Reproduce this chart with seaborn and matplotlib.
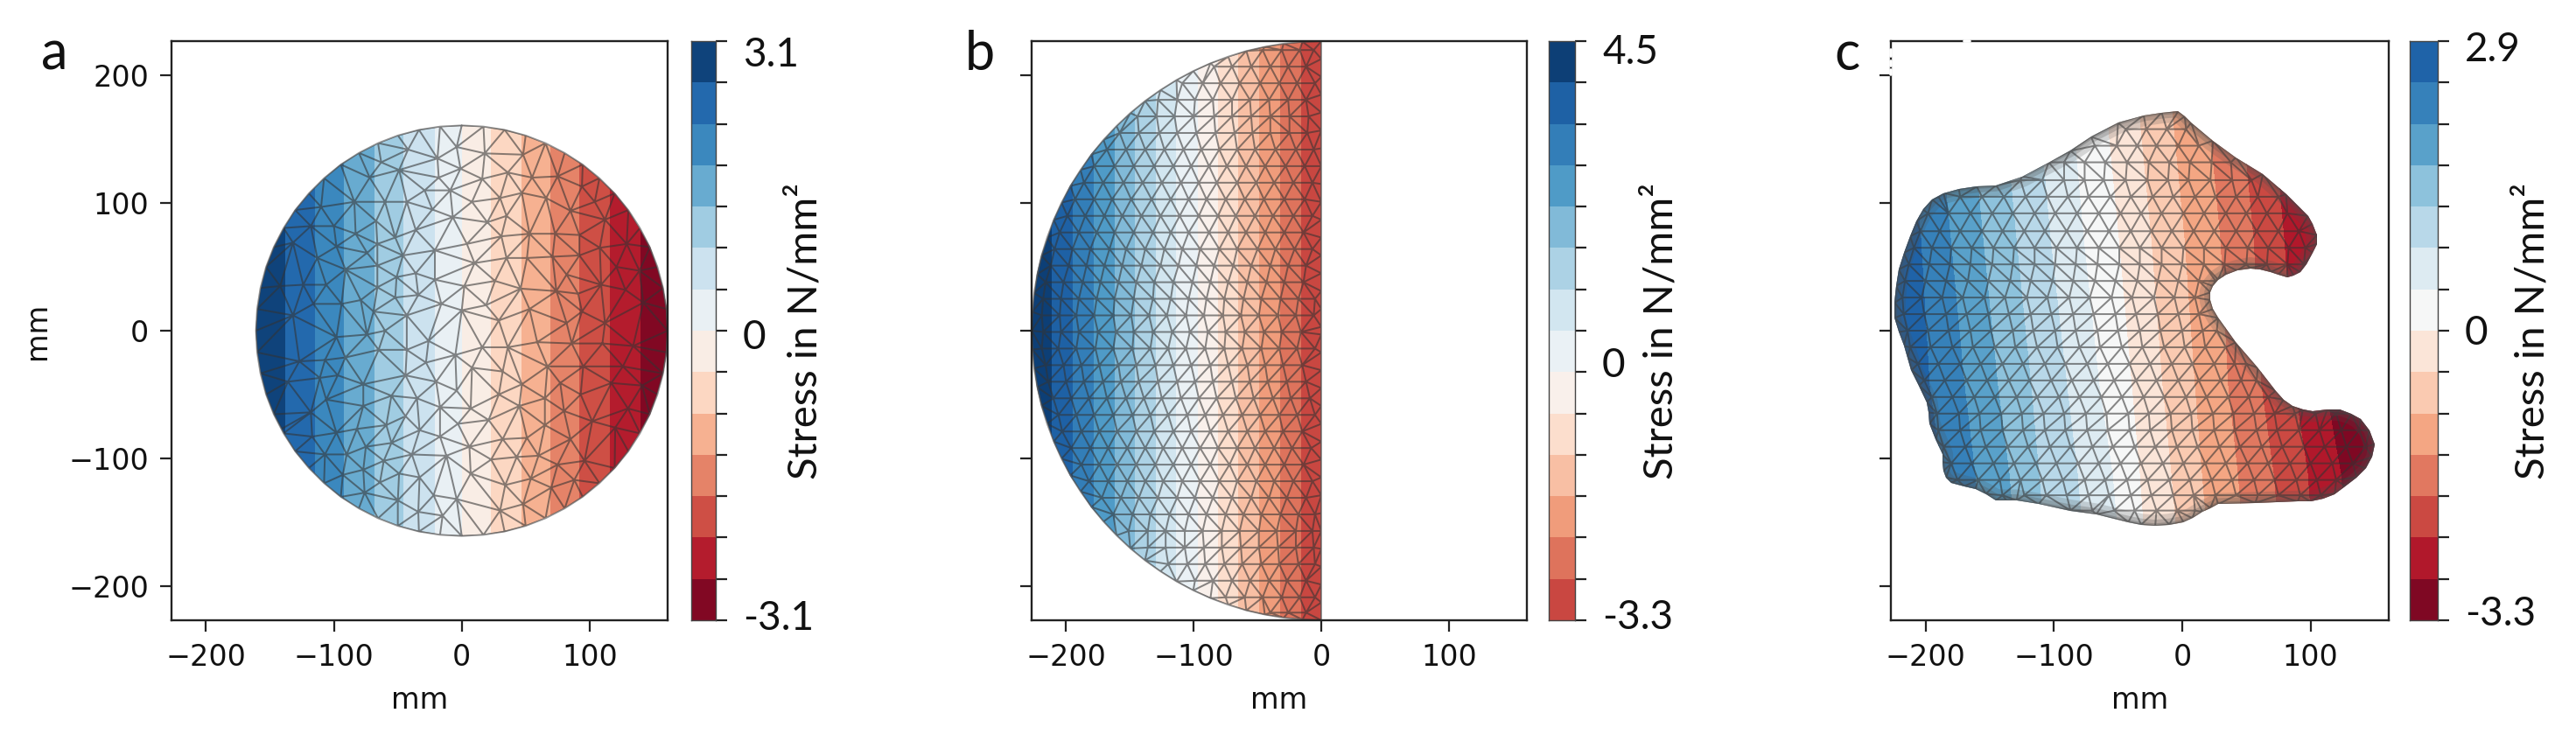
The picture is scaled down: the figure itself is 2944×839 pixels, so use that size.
import numpy as np
import matplotlib
matplotlib.use("Agg")
import matplotlib.pyplot as plt
import matplotlib.tri as mtri
from matplotlib.colors import Normalize
from matplotlib.patches import Polygon
from matplotlib.path import Path
from matplotlib.transforms import ScaledTranslation
import seaborn as sns

# values are read off the picture. mesh nodes are eyeballed from zoomed crops:
# panel a is read node by node, panels b and c are estimated row by row,
# so their meshes show the density and look of the original, not its exact nodes

# colour bins, left to right in the plots (blue side first), N/mm2
bins_a = [2.88, 2.44, 1.99, 1.55, 1.11, 0.66, 0.22, -0.22, -0.66, -1.11, -1.55, -1.99, -2.44, -2.88]
bins_b = [4.22, 3.66, 3.10, 2.54, 1.99, 1.43, 0.87, 0.31, -0.24, -0.79, -1.35, -1.91, -2.46, -3.02]
bins_c = [2.68, 2.24, 1.79, 1.35, 0.91, 0.46, 0.02, -0.42, -0.86, -1.31, -1.75, -2.19, -2.64, -3.08]
colour_limit = [3.1, 4.5, 3.3]

# band edges in mm
edges_a = [-161, -138, -115, -92, -68, -46, -21, 0, 23, 47, 69, 92, 116, 140, 161]
edges_b = [-227, -211, -195, -178, -162, -146, -130, -114, -97, -81, -65, -49, -32, -16, 0]
# panel c bands lean, so the edges are read at a few heights
edges_c_y = [180, 73, -43, -112, -160]
edges_c = [
    [-232, -213, -190, -165, -139, -112, -86, -59, -34, -8, 20, 46, 70, 95, 160],
    [-232, -203, -180, -155, -129, -102, -76, -49, -24, 2, 30, 56, 80, 105, 160],
    [-232, -196, -169, -143, -117, -89, -64, -39, -15, 10, 36, 62, 88, 112, 160],
    [-232, -187, -161, -134, -111, -81, -54, -33, -8, 16, 44, 72, 98, 124, 160],
    [-232, -183, -157, -130, -107, -77, -50, -29, -4, 20, 48, 76, 102, 128, 160],
]

# quarter arcs of the two circular parts, mm
arc_a_x = [0, 17, 33.5, 50, 65.5, 80.5, 94.6, 107.7, 119.6, 130.3, 139.4, 147.1, 153.1, 157.5, 160.1, 161]
arc_b_x = [0, 14.8, 29.6, 44.3, 58.8, 73, 86.9, 100.4, 113.5, 126.1, 138.2, 149.7, 160.5,
           170.7, 180.1, 188.7, 196.6, 203.6, 209.7, 214.9, 219.3, 222.6, 225.1, 226.5, 227]
edge_b_y = [213, 199, 185, 171, 157, 143, 129, 115, 101, 87, 73, 59, 45, 31, 17, 3]

outline_c = [(-3, 172), (2, 168), (7, 163), (24, 149), (42, 136), (63, 123), (81, 107), (98, 90), (102, 84), (105, 75),
             (105, 68), (102, 61), (97, 52), (92, 46), (87, 43), (82, 42), (75, 44), (69, 46), (61, 48), (53, 49),
             (43, 47), (34, 44), (28, 40), (24, 35), (22, 30), (22, 24), (24, 17), (28, 10), (42, -9), (59, -29),
             (73, -47), (79, -54), (86, -59), (94, -62), (102, -63), (113, -62), (123, -62), (132, -65), (139, -69),
             (146, -78), (150, -89), (148, -99), (143, -108), (136, -115), (127, -122), (119, -128), (110, -132),
             (100, -134), (90, -134), (57, -135), (28, -136), (22, -139), (16, -142), (8, -147), (1, -150), (-10, -152),
             (-21, -153), (-32, -152), (-42, -150), (-67, -144), (-87, -141), (-112, -136), (-129, -133), (-137, -133),
             (-145, -133), (-153, -128), (-161, -124), (-170, -122), (-180, -119), (-184, -115), (-186, -110),
             (-187, -103), (-187, -97), (-192, -85), (-197, -73), (-198, -64), (-199, -56), (-205, -43), (-211, -31),
             (-214, -21), (-217, -12), (-221, -1), (-224, 10), (-224, 22), (-223, 35), (-221, 48), (-217, 61),
             (-212, 74), (-207, 86), (-202, 95), (-195, 103), (-186, 108), (-174, 111), (-160, 113), (-145, 114),
             (-125, 121), (-104, 132), (-87, 141), (-71, 152), (-50, 163), (-30, 169), (-16, 171)]

nodes_a = [(-4, 144), (-19, 135), (-42, 142), (-63, 132), (-72, 120), (-49, 126), (-29, 110), (-18, 120), (-1, 127),
           (-9, 110), (18, 139), (16, 119), (36, 124), (48, 138), (55, 120), (75, 121), (30, 104), (47, 108), (66, 104),
           (94, 113), (104, 101), (85, 94), (112, 87), (8, 101), (-23, 95), (-43, 101), (-60, 101), (-84, 101),
           (-110, 97), (-118, 82), (-100, 82), (-67, 86), (-36, 79), (-7, 89), (20, 85), (35, 90), (53, 76), (73, 76),
           (92, 75), (108, 65), (129, 68), (31, 74), (-52, 73), (-83, 76), (-66, 68), (-98, 66), (-132, 69), (-113, 57),
           (-91, 48), (-74, 61), (-46, 59), (-21, 63), (4, 68), (35, 57), (51, 57), (71, 58), (92, 59), (121, 50),
           (139, 47), (10, 53), (-66, 51), (-51, 42), (-36, 45), (-21, 40), (2, 35), (26, 39), (46, 33), (74, 31),
           (82, 44), (109, 36), (128, 32), (-142, 35), (-124, 36), (-106, 36), (-66, 34), (-52, 26), (-34, 28), (-16, 21),
           (19, 20), (-79, 24), (-94, 21), (-116, 21), (-132, 12), (-43, 12), (0, 16), (29, 8), (53, 17), (91, 29),
           (94, 15), (142, 22), (112, 6), (82, 6), (-69, 15), (-60, 0),
           (-98, -5), (-74, -3), (-26, -8), (59, -9), (86, -10), (110, -10), (134, -12), (16, -13), (36, -13), (-5, -19),
           (-43, -15), (-65, -15), (-127, -24), (-107, -23), (-91, -21), (-28, -25), (8, -29), (67, -28), (95, -28),
           (126, -28), (32, -32), (-44, -35), (-111, -37), (-97, -35), (-77, -42), (-20, -40), (47, -42), (77, -41),
           (117, -41), (141, -43), (-4, -47), (-136, -40), (-55, -51), (29, -50), (65, -53), (93, -50), (-106, -54),
           (-77, -59), (-35, -53), (-17, -60), (7, -61), (45, -59), (80, -63), (130, -61), (-118, -64), (-44, -67),
           (102, -71), (65, -74), (-3, -73), (21, -70), (-59, -74), (120, -76), (-141, -77), (-98, -80), (-82, -77),
           (-33, -78), (-17, -83), (32, -85), (51, -84), (85, -85), (-117, -83), (-75, -91), (-55, -88), (6, -91),
           (-107, -97), (-90, -97), (-39, -97), (-12, -98), (43, -99), (60, -98), (96, -102), (23, -101), (-61, -102),
           (75, -105), (-77, -109), (7, -112), (-49, -112), (-33, -115), (-93, -113), (54, -116), (88, -117), (-64, -119),
           (34, -121), (70, -123), (-76, -127), (-22, -129), (-4, -132), (-50, -133), (48, -136), (-34, -142), (30, -141),
           (-15, -145)]

rows_b = {
    220: [-46, -31, -17, -6],
    207: [-84, -70, -55, -40, -26, -12],
    194: [-109, -93, -79, -64, -48, -33, -19, -5],
    181: [-128, -113, -99, -85, -70, -56, -41, -26, -12],
    168: [-144, -129, -115, -100, -84, -70, -55, -40, -25, -10],
    155: [-158, -143, -127, -113, -98, -83, -68, -54, -40, -25, -11],
    142: [-168, -153, -138, -123, -108, -94, -80, -66, -52, -36, -20, -6],
    129: [-178, -162, -147, -131, -116, -102, -88, -74, -59, -44, -28, -13],
    116: [-186, -171, -155, -140, -125, -110, -96, -82, -66, -51, -37, -22, -7],
    103: [-193, -178, -164, -149, -133, -118, -104, -90, -75, -60, -45, -29, -13],
    90: [-199, -185, -170, -156, -141, -126, -111, -96, -81, -67, -52, -38, -22, -7],
    77: [-205, -190, -176, -162, -147, -132, -118, -104, -88, -73, -59, -44, -29, -14],
    64: [-209, -195, -181, -166, -153, -138, -123, -109, -95, -80, -66, -50, -36, -21, -7],
    51: [-212, -198, -184, -170, -156, -141, -126, -112, -98, -84, -69, -55, -40, -26, -12],
    38: [-216, -202, -187, -173, -159, -145, -131, -116, -101, -87, -73, -58, -43, -29, -14],
    25: [-218, -204, -190, -176, -162, -147, -132, -118, -104, -90, -76, -61, -47, -32, -18, -5],
    12: [-219, -205, -192, -178, -163, -149, -135, -121, -106, -92, -77, -63, -49, -34, -20, -6],
    -1: [-218, -204, -190, -175, -161, -147, -132, -117, -103, -89, -75, -60, -45, -31, -16],
    -14: [-219, -206, -192, -177, -163, -148, -134, -120, -106, -91, -76, -62, -47, -33, -19, -5],
    -27: [-216, -202, -188, -174, -159, -145, -130, -116, -102, -87, -73, -58, -44, -30, -15],
    -40: [-214, -200, -186, -171, -157, -143, -128, -113, -99, -85, -70, -56, -42, -27, -12],
    -53: [-210, -196, -182, -168, -153, -139, -125, -110, -96, -82, -67, -53, -38, -24, -9],
    -66: [-206, -192, -178, -163, -148, -134, -120, -105, -91, -77, -62, -48, -33, -19, -5],
    -79: [-203, -188, -174, -160, -145, -131, -116, -102, -87, -73, -58, -44, -30, -15],
    -92: [-196, -181, -167, -152, -138, -124, -109, -95, -81, -66, -52, -37, -23, -8],
    -105: [-188, -174, -160, -145, -130, -116, -102, -87, -72, -58, -44, -29, -14],
    -118: [-182, -167, -152, -138, -124, -109, -95, -80, -66, -51, -37, -22, -7],
    -131: [-172, -157, -143, -128, -113, -99, -85, -70, -55, -41, -27, -12],
    -144: [-163, -148, -134, -119, -104, -90, -75, -61, -47, -32, -18, -5],
    -157: [-151, -136, -122, -107, -93, -78, -64, -49, -35, -20, -7],
    -170: [-136, -122, -107, -92, -78, -63, -49, -34, -20, -6],
    -183: [-120, -105, -91, -76, -62, -47, -33, -18, -5],
    -196: [-99, -85, -70, -56, -41, -27, -12],
    -209: [-75, -60, -46, -31, -17, -5],
    -221: [-40, -26, -12],
}

rows_c = {
    158: [-44, -28, -12, 3],
    145: [-68, -51, -35, -20, -3, 13],
    132: [-92, -76, -60, -43, -26, -10, 6, 23, 38],
    118: [-126, -109, -92, -76, -61, -44, -27, -11, 5, 22, 39, 54],
    105: [-190, -173, -156, -139, -122, -105, -89, -73, -56, -40, -23, -7, 10, 26, 42, 59, 75],
    92: [-198, -182, -165, -148, -132, -115, -99, -82, -65, -48, -32, -16, 1, 17, 34, 50, 66, 82],
    78: [-204, -189, -173, -156, -140, -123, -107, -90, -74, -57, -40, -24, -8, 9, 25, 42, 58, 75, 91],
    65: [-209, -195, -180, -164, -147, -131, -115, -98, -82, -65, -49, -33, -16, 1, 17, 34, 51, 67, 83, 96],
    52: [-213, -197, -181, -165, -148, -132, -115, -99, -83, -66, -49, -33, -16, 0, 17, 33, 50, 66, 82, 95],
    39: [-216, -200, -184, -167, -151, -134, -118, -101, -85, -68, -52, -35, -19, -3, 13, 26],
    26: [-218, -203, -187, -171, -154, -138, -121, -105, -88, -72, -55, -39, -22, -6, 10],
    13: [-217, -201, -184, -168, -151, -135, -118, -102, -85, -69, -52, -36, -19, -3, 13],
    0: [-214, -198, -182, -165, -149, -132, -116, -99, -83, -66, -50, -33, -17, 0, 16, 27],
    -13: [-212, -196, -179, -163, -146, -130, -113, -97, -80, -64, -47, -31, -14, 2, 18, 34],
    -26: [-206, -190, -173, -157, -140, -124, -107, -91, -74, -58, -41, -25, -8, 8, 25, 41, 50],
    -39: [-201, -185, -168, -152, -135, -119, -102, -86, -69, -53, -36, -20, -3, 13, 30, 46, 58],
    -52: [-195, -179, -162, -146, -129, -113, -96, -80, -63, -47, -30, -14, 3, 19, 36, 52, 67],
    -65: [-191, -174, -158, -141, -125, -108, -92, -75, -59, -42, -26, -9, 7, 24, 40, 56, 72, 88, 104, 120],
    -78: [-190, -173, -157, -140, -124, -107, -91, -74, -58, -41, -25, -8, 8, 25, 41, 58, 74, 91, 107, 124, 138],
    -91: [-186, -169, -153, -136, -120, -103, -87, -70, -54, -37, -21, -4, 12, 29, 45, 62, 78, 95, 111, 128, 143],
    -104: [-180, -164, -147, -131, -114, -98, -81, -65, -48, -32, -15, 1, 18, 34, 51, 67, 84, 100, 117, 133],
    -117: [-175, -159, -142, -126, -109, -93, -76, -60, -43, -27, -10, 6, 23, 39, 56, 72, 89, 105, 120],
    -129: [-140, -123, -106, -90, -73, -57, -40, -24, -7, 9, 26, 42, 59, 75, 92, 108],
    -141: [-70, -53, -37, -20, -4, 10],
}

x_ticks = [-200, -100, 0, 100]
y_ticks = [-200, -100, 0, 100, 200]
cbar_top = ["3.1", "4.5", "2.9"]
cbar_bottom = ["-3.1", "-3.3", "-3.3"]
cbar_zero_bin = [7, 8, 7]   # bin edge, counted from the top, that carries the "0" label
panel_letters = ["a", "b", "c"]

W, H = 2944, 839


def px_axes(fig, left, right, top, bottom):
    return fig.add_axes([left / W, 1 - bottom / H, (right - left) / W, (bottom - top) / H])


def quarter_to_outline_a():
    qx = np.array(arc_a_x)
    qy = qx[::-1]
    x = np.r_[qx, qx[::-1][1:], -qx[1:], -qx[::-1][1:-1]]
    y = np.r_[qy, -qy[::-1][1:], -qy[1:], qy[::-1][1:-1]]
    return np.c_[x, y]


def half_outline_b():
    qx = np.array(arc_b_x)
    qy = qx[::-1]
    x = np.r_[-qx, -qx[::-1][1:]]
    y = np.r_[qy, -qy[::-1][1:]]
    return np.c_[x, y]


def draw_part(ax, outline, nodes, band_x, band_y, values, limit, ring=False):
    cmap = sns.color_palette("RdBu", as_cmap=True)
    norm = Normalize(-limit, limit)
    X = np.array(band_x, dtype=float)
    Y = np.repeat(np.array(band_y, dtype=float)[:, None], X.shape[1], axis=1)
    C = np.array(values)[None, :].repeat(X.shape[0] - 1, axis=0)
    mesh = ax.pcolormesh(X, Y, C, cmap=cmap, norm=norm, shading="flat", linewidth=0, rasterized=True)
    shape = Polygon(outline, closed=True, fc="none", ec="none", transform=ax.transData)
    ax.add_patch(shape)
    mesh.set_clip_path(shape)

    path = Path(np.r_[outline, outline[:1]])
    nodes = np.array(nodes, dtype=float)
    nodes = nodes[path.contains_points(nodes)]
    pts = np.r_[outline, nodes]
    tri = mtri.Triangulation(pts[:, 0], pts[:, 1])
    centres = pts[tri.triangles].mean(axis=1)
    tri.set_mask(~path.contains_points(centres))
    lines, _ = ax.triplot(tri, color="#333333", lw=0.72, alpha=0.58)
    lines.set_clip_path(shape)

    if ring:
        # the mesh gets very fine along this edge and reads as a soft dark rim
        for lw, alpha in [(9.0, 0.2), (5.0, 0.25), (2.0, 0.3)]:
            line, = ax.plot(*np.r_[outline, outline[:1]].T, color="#4d4d4d", lw=lw, alpha=alpha,
                            solid_joinstyle="round")
            line.set_clip_path(shape)
    else:
        ax.plot(*np.r_[outline, outline[:1]].T, color="#666666", lw=0.6, alpha=0.7)


def draw_bar(cax, values, limit, top, bottom, zero_bin, offsets):
    cmap = sns.color_palette("RdBu", as_cmap=True)
    table = np.array(values)[:, None]
    sns.heatmap(table, ax=cax, cmap=cmap, norm=Normalize(-limit, limit), cbar=False,
                xticklabels=False, yticklabels=False)
    cax.yaxis.tick_right()
    labels = [""] * 15
    labels[0], labels[zero_bin], labels[14] = top, "0", bottom
    cax.set_yticks(np.arange(15))
    cax.set_yticklabels(labels, rotation=0, fontsize=16.5, family="Lato", color="#111111")
    cax.tick_params(axis="y", length=4.7, width=0.8, pad=6.5, color="#222222")
    for tick_label, shift in zip([cax.get_yticklabels()[i] for i in (0, zero_bin, 14)], offsets):
        tick_label.set_transform(tick_label.get_transform()
                                 + ScaledTranslation(0, shift / 200, cax.figure.dpi_scale_trans))
    for spine in cax.spines.values():
        spine.set_visible(True)
        spine.set_linewidth(0.5)
        spine.set_color("#444444")


sns.set_theme(style="ticks")
plt.rcParams["font.family"] = ["DejaVu Sans"]
fig = plt.figure(figsize=(W / 200, H / 200), dpi=200)

main_boxes = [(196, 763), (1179, 1745), (2161, 2730)]
bar_boxes = [(790, 818), (1770, 1800), (2754, 2786)]
top_px, bottom_px = 47, 709
label_x = [920, 1899, 2894]
letter_x = [62, 1120, 2111]
# label shifts in px: top, zero, bottom
label_shift = [(-12, -4, 6), (-9, 11, 7), (-6, 1, 11)]

outline_a = quarter_to_outline_a()
outline_b = half_outline_b()
outline_c_arr = np.array(outline_c, dtype=float)

edge_b = np.c_[np.zeros(2 * len(edge_b_y)), np.r_[edge_b_y, -np.array(edge_b_y)]]
nodes_b = np.r_[np.array([(x, y) for y, xs in rows_b.items() for x in xs], dtype=float), edge_b]
nodes_c = [(x, y) for y, xs in rows_c.items() for x in xs]

parts = [
    (outline_a, nodes_a, [edges_a, edges_a], [-230, 230], bins_a, False),
    (outline_b, nodes_b, [edges_b, edges_b], [-230, 230], bins_b, False),
    (outline_c_arr, nodes_c, edges_c, edges_c_y, bins_c, True),
]

for i, (outline, nodes, band_x, band_y, values, ring) in enumerate(parts):
    ax = px_axes(fig, main_boxes[i][0], main_boxes[i][1], top_px, bottom_px)
    draw_part(ax, outline, nodes, band_x, band_y, values, colour_limit[i], ring)
    ax.set_xlim(-227, 161)
    ax.set_ylim(-227, 227)
    ax.set_xticks(x_ticks)
    ax.set_yticks(y_ticks)
    ax.tick_params(length=4.7, width=0.8, pad=4.5, labelsize=12, color="#222222", labelcolor="#111111")
    ax.set_xlabel("mm", fontsize=12, labelpad=6, color="#111111")
    if i == 0:
        ax.set_ylabel("mm", fontsize=12, labelpad=7, color="#111111")
    else:
        ax.set_yticklabels([])
    for spine in ax.spines.values():
        spine.set_linewidth(0.85)
        spine.set_color("#222222")

    cax = px_axes(fig, bar_boxes[i][0], bar_boxes[i][1], top_px, bottom_px)
    # bar runs from the highest bin at the top to the lowest at the bottom
    draw_bar(cax, values, colour_limit[i], cbar_top[i], cbar_bottom[i], cbar_zero_bin[i], label_shift[i])

    fig.text(label_x[i] / W, 1 - 378 / H, "Stress in N/mm²", rotation=90, ha="center", va="center",
             fontsize=17, family="Lato", color="#111111")
    fig.text(letter_x[i] / W, 1 - 80 / H, panel_letters[i], ha="center", va="baseline",
             fontsize=22, family="Lato", color="#111111")

    if i == 2:
        # the little breaks in the frame next to the c
        ax.plot([0.148, 0.159], [1, 1], color="white", lw=1.3, transform=ax.transAxes, clip_on=False, zorder=6)
        for y0, y1 in [(0.985, 0.975), (0.965, 0.958), (0.95, 0.943)]:
            ax.plot([0, 0], [y0, y1], color="white", lw=1.3, transform=ax.transAxes, clip_on=False, zorder=6)

fig.savefig("out.png", dpi=200, facecolor="white")
